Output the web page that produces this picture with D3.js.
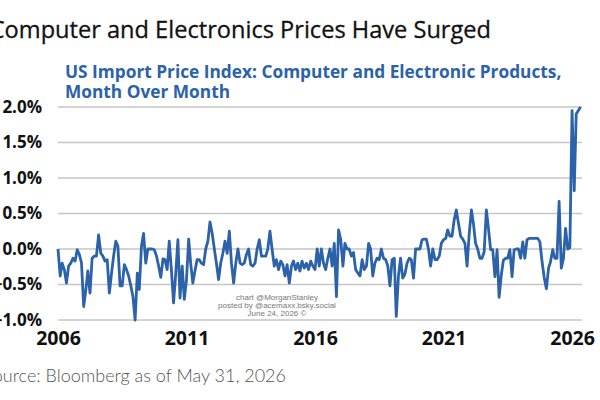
<!DOCTYPE html>
<html>
<head>
<meta charset="utf-8">
<script src="https://cdn.jsdelivr.net/npm/d3@7"></script>
<style>
  html, body { margin: 0; padding: 0; background: #fff; }
  svg { display: block; font-family: "Open Sans", "Noto Sans", sans-serif; }
</style>
</head>
<body>
<div id="chart"></div>
<script>
// monthly % change, Jan 2006 .. May 2026
const startMonth = new Date(2006, 0, 1);
const momValues = [
  0.0, -0.38, -0.2, -0.29, -0.48, -0.24, -0.2, -0.13, -0.17, -0.01,
  -0.08, -0.2, -0.81, -0.57, -0.31, -0.62, -0.13, -0.1, -0.1, 0.2,
  -0.06, -0.1, -0.17, -0.15, -0.62, -0.34, -0.1, 0.11, 0.04, -0.52,
  -0.52, -0.22, -0.29, -0.38, -0.52, -0.67, -1.0, -0.34, -0.57, 0.04,
  0.22, -0.2, 0.0, 0.0, 0.0, -0.01, -0.1, -0.24, -0.4, -0.14,
  -0.15, -0.29, 0.11, -0.3, -0.76, -0.35, 0.13, -0.69, -0.24, -0.71,
  -0.43, 0.14, -0.2, -0.48, -0.31, -0.15, -0.15, -0.2, -0.22, 0.0,
  0.11, 0.38, 0.22, 0.0, -0.2, -0.43, -0.2, -0.06, 0.11, -0.06,
  0.25, -0.2, -0.48, -0.2, 0.0, -0.2, -0.22, -0.2, -0.08, 0.0,
  -0.22, -0.24, -0.2, 0.0, 0.13, -0.1, -0.1, -0.1, 0.0, 0.25,
  0.0, -0.24, -0.15, -0.29, -0.17, -0.22, -0.38, -0.22, -0.48, -0.24,
  -0.17, -0.29, -0.2, -0.31, -0.17, -0.27, -0.2, -0.29, -0.17, -0.24,
  -0.29, 0.0, -0.24, 0.0, -0.2, -0.29, -0.13, 0.0, -0.24, 0.08,
  -0.67, 0.27, 0.13, -0.24, 0.08, 0.0, 0.0, -0.1, -0.05, -0.29,
  -0.34, -0.38, -0.15, -0.29, -0.24, 0.08, 0.0, -0.38, -0.2, -0.13,
  -0.15, 0.0, -0.13, -0.15, -0.24, -0.52, -0.15, -0.13, -0.95, -0.38,
  -0.13, -0.41, -0.36, -0.2, -0.13, -0.15, -0.41, 0.0, 0.0, 0.0,
  0.13, 0.14, 0.14, 0.0, -0.24, 0.0, -0.15, -0.15, -0.1, 0.08,
  0.13, 0.15, 0.27, 0.18, 0.18, 0.41, 0.55, 0.36, 0.18, 0.14,
  0.08, -0.24, 0.22, 0.55, 0.36, 0.08, 0.0, -0.13, -0.13, -0.04,
  0.55, 0.29, -0.01, -0.01, -0.39, -0.01, -0.68, -0.37, -0.16, -0.13,
  -0.13, -0.01, -0.39, -0.01, 0.0, 0.0, -0.13, 0.1, -0.13, 0.13,
  0.15, 0.15, 0.15, 0.15, 0.15, 0.1, -0.18, -0.4, -0.56, -0.27,
  -0.18, -0.01, -0.13, -0.13, 0.67, -0.27, -0.13, 0.29, 0.0, 0.02,
  1.95, 0.82, 1.9, 1.95, 2.0
];
const yTicks = [-1.0, -0.5, 0.0, 0.5, 1.0, 1.5, 2.0];
const xTickYears = [2006, 2011, 2016, 2021, 2026];
const watermark = ['chart @MorganStanley', 'posted by @acemaxx.bsky.social', 'June 24, 2026 \u00a9'];

const W = 600, H = 400;
const blue = '#2b62aa';

const data = momValues.map((v, i) => ({ date: d3.timeMonth.offset(startMonth, i), value: v }));

const svg = d3.select('#chart').append('svg')
  .attr('width', W)
  .attr('height', H);

const x = d3.scaleTime()
  .domain([startMonth, data[data.length - 1].date])
  .range([58, 580.5]);

const y = d3.scaleLinear()
  .domain([-1, 2])
  .range([320, 107]);

// titles
svg.append('text')
  .attr('x', 491)
  .attr('y', 38)
  .attr('text-anchor', 'end')
  .style('font-size', '23.6px')
  .style('fill', '#111')
  .style('stroke', '#111')
  .style('stroke-width', 0.3)
  .text('Computer and Electronics Prices Have Surged');

const sub = svg.append('text')
  .attr('x', 65)
  .style('font-size', '17.3px')
  .style('font-weight', 'bold')
  .style('fill', blue);
sub.append('tspan').attr('x', 65).attr('y', 78).text('US Import Price Index: Computer and Electronic Products,');
sub.append('tspan').attr('x', 65).attr('y', 98).text('Month Over Month');

// gridlines
svg.append('g')
  .attr('class', 'grid')
  .selectAll('line')
  .data(yTicks)
  .join('line')
  .attr('x1', 58)
  .attr('x2', 582)
  .attr('y1', d => y(d))
  .attr('y2', d => y(d))
  .attr('stroke', '#c6c6c6')
  .attr('stroke-width', 1.5);

// y axis labels
const yAxis = d3.axisLeft(y)
  .tickValues(yTicks)
  .tickSize(0)
  .tickPadding(0)
  .tickFormat(d => d3.format('.1f')(d) + '%');

svg.append('g')
  .attr('transform', 'translate(42,0)')
  .call(yAxis)
  .call(g => g.select('.domain').remove())
  .selectAll('text')
  .style('font-family', '"Open Sans", sans-serif')
  .style('font-size', '17px')
  .style('font-weight', 'bold')
  .style('fill', '#111');

// x axis labels
const xAxis = d3.axisBottom(x)
  .tickValues(xTickYears.map(yr => new Date(yr, 0, 1)))
  .tickSize(0)
  .tickPadding(0)
  .tickFormat(d3.timeFormat('%Y'));

svg.append('g')
  .attr('transform', 'translate(0,331)')
  .call(xAxis)
  .call(g => g.select('.domain').remove())
  .selectAll('text')
  .style('font-family', '"Open Sans", sans-serif')
  .style('font-size', '19.5px')
  .style('font-weight', 'bold')
  .style('fill', '#111');

// watermark
svg.append('g')
  .selectAll('text')
  .data(watermark)
  .join('text')
  .attr('x', 277)
  .attr('y', (d, i) => 300 + i * 8)
  .attr('text-anchor', 'middle')
  .style('font-family', '"Liberation Sans", Arial, sans-serif')
  .style('font-size', '8px')
  .style('fill', '#777')
  .text(d => d);

// the series
const line = d3.line()
  .x(d => x(d.date))
  .y(d => y(d.value));

svg.append('path')
  .datum(data)
  .attr('fill', 'none')
  .attr('stroke', blue)
  .attr('stroke-width', 2.8)
  .attr('stroke-linejoin', 'round')
  .attr('d', line);

// source
svg.append('text')
  .attr('x', 286)
  .attr('y', 382)
  .attr('text-anchor', 'end')
  .style('font-family', 'Lato, "Open Sans", sans-serif')
  .style('font-weight', 300)
  .style('font-size', '18px')
  .style('fill', '#555')
  .text('Source: Bloomberg as of May 31, 2026');
</script>
</body>
</html>
